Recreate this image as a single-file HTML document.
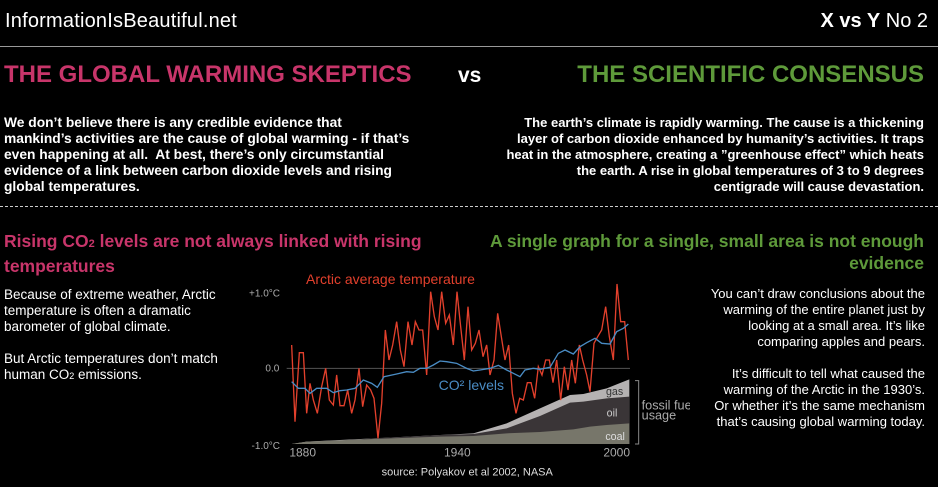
<!DOCTYPE html>
<html><head><meta charset="utf-8"><style>
*{margin:0;padding:0}
body{width:938px;height:487px;background:#000;position:relative;overflow:hidden;font-family:"Liberation Sans",sans-serif;color:#fff}
.a{position:absolute;white-space:nowrap}
.pk{color:#c8356a}.gr{color:#5e9a3a}
.b{font-weight:bold}
.t{font-size:13.5px;line-height:16px}
</style></head><body>
<div class="a" style="left:5px;top:10px;font-size:20px;letter-spacing:0.2px">InformationIsBeautiful.net</div>
<div class="a" style="right:10px;top:10px;font-size:20px"><b>X vs Y</b> No 2</div>
<div class="a" style="left:0;top:46px;width:938px;height:1px;background:#999"></div>
<div class="a pk b" style="left:4px;top:61px;font-size:24px">THE GLOBAL WARMING SKEPTICS</div>
<div class="a b" style="left:458px;top:64px;font-size:21px">vs</div>
<div class="a gr b" style="right:14px;top:61px;font-size:24px">THE SCIENTIFIC CONSENSUS</div>
<div class="a b" style="left:4px;top:115px;font-size:13.8px;line-height:16px">We don’t believe there is any credible evidence that<br>mankind’s activities are the cause of global warming - if that’s<br>even happening at all.&nbsp; At best, there’s only circumstantial<br>evidence of a link between carbon dioxide levels and rising<br>global temperatures.</div>
<div class="a b" style="right:14px;top:115px;text-align:right;font-size:13px;line-height:16px">The earth’s climate is rapidly warming. The cause is a thickening<br>layer of carbon dioxide enhanced by humanity’s activities. It traps<br>heat in the atmosphere, creating a ”greenhouse effect” which heats<br>the earth. A rise in global temperatures of 3 to 9 degrees<br>centigrade will cause devastation.</div>
<div class="a" style="left:0;top:206px;width:938px;border-top:1px dashed #ccc"></div>
<div class="a pk b" style="left:4px;top:230px;font-size:17.5px;line-height:22px">Rising CO<span style="font-size:11px">2</span> levels are not always linked with rising<br>temperatures</div>
<div class="a gr b" style="right:14px;top:230px;font-size:17.5px;line-height:22px;text-align:right">A single graph for a single, small area is not enough<br>evidence</div>
<div class="a t" style="left:4px;top:287px">Because of extreme weather, Arctic<br>temperature is often a dramatic<br>barometer of global climate.<br><br>But Arctic temperatures don’t match<br>human CO<span style="font-size:9px">2</span> emissions.</div>
<div class="a" style="right:13px;top:286px;text-align:right;font-size:13px;line-height:16px">You can’t draw conclusions about the<br>warming of the entire planet just by<br>looking at a small area. It’s like<br>comparing apples and pears.<br><br>It’s difficult to tell what caused the<br>warming of the Arctic in the 1930’s.<br>Or whether it’s the same mechanism<br>that’s causing global warming today.</div>
<svg class="a" style="left:240px;top:260px" width="450" height="220" viewBox="0 0 1350 660">
<line x1="140" y1="325" x2="1170" y2="325" stroke="#555" stroke-width="3"/>
<polygon fill="#b5b2b2" points="155,552 200,545 400,535 600,525 700,520 800,490 900,445 990,405 1030,402 1100,385 1168,358 1168,552"/>
<polygon fill="#3a3537" points="155,552 400,535 600,525 700,522 800,505 900,468 990,428 1030,425 1100,415 1168,410 1168,552"/>
<polygon fill="#77766a" points="155,552 200,545 400,537 600,530 700,528 800,520 900,516 1000,508 1050,500 1100,495 1168,490 1168,552"/>
<polyline fill="none" stroke="#e2402c" stroke-width="4" points="155,255 165,485 178,278 190,278 200,460 210,370 220,420 232,460 245,380 257,325 268,420 280,435 290,345 300,437 312,437 323,390 335,460 345,420 357,325 368,440 380,375 392,390 402,415 414,535 425,430 436,210 447,300 458,255 470,185 481,270 492,320 504,185 516,255 526,185 537,210 548,210 560,345 572,95 583,170 594,210 605,95 617,190 628,165 640,255 651,95 662,200 673,300 684,140 695,270 706,250 717,210 729,290 740,255 750,345 762,300 773,160 784,230 795,300 806,255 817,400 828,460 839,415 850,420 862,368 873,368 884,415 895,320 906,345 917,300 928,300 939,368 950,300 962,420 973,320 984,390 995,300 1006,370 1018,255 1028,300 1040,345 1050,395 1062,250 1073,230 1085,210 1097,140 1108,230 1120,300 1131,72 1142,185 1154,185 1165,300"/>
<polyline fill="none" stroke="#4a8cc4" stroke-width="4" points="155,365 175,385 195,385 210,400 230,385 260,385 280,398 300,392 320,390 345,385 370,360 395,370 412,382 432,350 470,342 500,335 520,337 540,325 560,325 580,315 600,303 620,305 650,310 680,325 700,333 720,330 750,325 775,316 800,330 820,340 840,350 855,330 880,325 900,328 930,322 955,280 975,270 1000,282 1020,260 1040,248 1065,235 1085,250 1110,252 1130,215 1150,205 1165,192"/>
<polyline fill="none" stroke="#888" stroke-width="3" points="1185,362 1196,362 1196,552 1185,552"/>
<g font-family="Liberation Sans,sans-serif" fill="#aaa" font-size="30">
<text x="120" y="110" text-anchor="end">+1.0°C</text>
<text x="118" y="335" text-anchor="end">0.0</text>
<text x="120" y="567" text-anchor="end">-1.0°C</text>
<text x="148" y="590" font-size="36">1880</text>
<text x="612" y="590" font-size="36">1940</text>
<text x="1090" y="590" font-size="36">2000</text>
<text x="1098" y="405" fill="#333" font-size="32">gas</text>
<text x="1100" y="470" fill="#ccc" font-size="32">oil</text>
<text x="1096" y="540" fill="#ddd" font-size="32">coal</text>
<text x="1205" y="448" font-size="38">fossil fuel</text>
<text x="1205" y="478" font-size="38">usage</text>
<text x="425" y="647" fill="#ddd" font-size="33">source: Polyakov et al 2002, NASA</text>
</g>
<text x="198" y="72" fill="#e2402c" font-family="Liberation Sans,sans-serif" font-size="42">Arctic average temperature</text>
<text x="596" y="390" fill="#4a8cc4" font-family="Liberation Sans,sans-serif" font-size="42">CO² levels</text>
</svg>
</body></html>
